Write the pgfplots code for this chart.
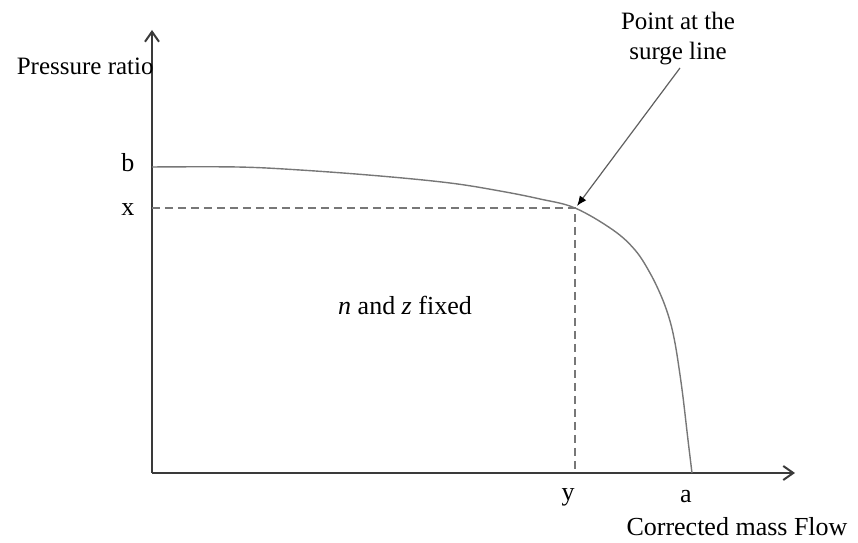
\documentclass[border=0pt]{standalone}
\usepackage{pgfplots}
\pgfplotsset{compat=1.18}
\usepackage{fontspec}
\setmainfont{Liberation Serif}
\usetikzlibrary{arrows.meta}
\definecolor{axgray}{HTML}{3A3A3A}
\definecolor{curvegray}{HTML}{777777}
\begin{document}
\begin{tikzpicture}
\begin{axis}[
  x=0.5pt, y=0.5pt,
  xmin=0, xmax=643, ymin=0, ymax=443,
  axis lines=left,
  axis line style={axgray, line width=1.1pt},
  x axis line style={-{Straight Barb[length=5pt,width=7pt,line width=1pt]}},
  y axis line style={-{Straight Barb[length=5pt,width=7pt,line width=1pt]}},
  xtick=\empty, ytick=\empty,
  clip=false,
  font=\fontsize{13}{15}\selectfont,
]
\draw[draw=none] (axis cs:-152,-69) rectangle (axis cs:706,473);
\addplot[curvegray, line width=0.7pt, smooth, tension=0.6] coordinates {
(0,306) (85,306) (148,303) (228,297) (298,290) (348,282) (388,274) (423,265)
(461,243) (483,223) (498,200) (510,175) (518,152) (523,130) (527,105) (531,76) (536,33) (540,0)};
\addplot[curvegray, line width=0.6pt, dashed, dash pattern=on 4pt off 2.5pt] coordinates {(0,265) (423,265) (423,0)};
\addplot[curvegray!80!black, line width=0.6pt, -{Latex[length=5pt,width=4pt,black]}] coordinates {(528,405) (425,267)};
\node[align=center, font=\fontsize{12.5}{15}\selectfont] at (axis cs:526,434) {Point at the\\surge line};
\node[anchor=east, inner sep=0pt, font=\fontsize{12.5}{15}\selectfont] at (axis cs:2,407) {Pressure ratio};
\node at (axis cs:-24,310) {b};
\node at (axis cs:-24,263) {x};
\node at (axis cs:416,-24) {y};
\node at (axis cs:534,-24) {a};
\node at (axis cs:585,-54) {Corrected mass Flow};
\node at (axis cs:253,168) {\textit{n} and \textit{z} fixed};
\end{axis}
\end{tikzpicture}
\end{document}
